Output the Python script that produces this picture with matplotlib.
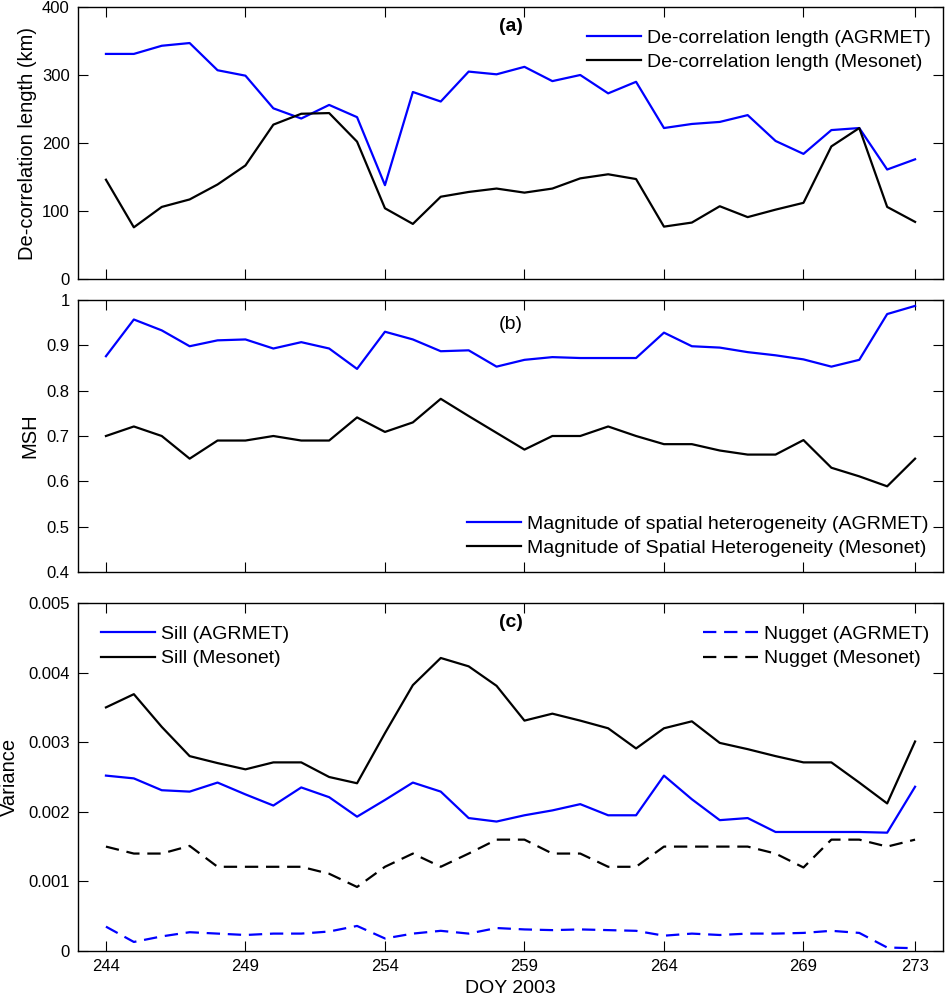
import matplotlib
matplotlib.use("Agg")
import matplotlib.pyplot as plt
import numpy as np

plt.rcParams['font.family'] = ['Liberation Sans', 'DejaVu Sans']
plt.rcParams['font.size'] = 12

doy = np.arange(244, 274)

# (a) de-correlation length, km
decor_agrmet = [331, 331, 343, 347, 307, 299, 251, 236, 256, 238,
                138, 275, 261, 305, 301, 312, 291, 300, 273, 290,
                222, 228, 231, 241, 203, 184, 219, 222, 161, 176]
decor_mesonet = [146, 76, 106, 117, 139, 167, 227, 243, 244, 202,
                 104, 81, 121, 128, 133, 127, 133, 148, 154, 147,
                 77, 83, 107, 91, 102, 112, 195, 222, 106, 84]

# (b) magnitude of spatial heterogeneity
msh_agrmet = [0.876, 0.957, 0.933, 0.898, 0.911, 0.913, 0.893, 0.907, 0.893, 0.848,
              0.930, 0.913, 0.887, 0.889, 0.853, 0.868, 0.874, 0.872, 0.872, 0.872,
              0.928, 0.898, 0.895, 0.885, 0.878, 0.869, 0.853, 0.868, 0.969, 0.987]
msh_mesonet = [0.700, 0.721, 0.700, 0.650, 0.690, 0.690, 0.700, 0.690, 0.690, 0.741,
               0.709, 0.730, 0.782, 0.744, 0.707, 0.670, 0.700, 0.700, 0.721, 0.700,
               0.682, 0.682, 0.668, 0.659, 0.659, 0.691, 0.630, 0.611, 0.589, 0.650]

# (c) variance (x 1e-3)
sill_agrmet = [2.52, 2.48, 2.31, 2.29, 2.42, 2.25, 2.09, 2.35, 2.21, 1.93,
               2.17, 2.42, 2.29, 1.91, 1.86, 1.95, 2.02, 2.11, 1.95, 1.95,
               2.52, 2.18, 1.88, 1.91, 1.71, 1.71, 1.71, 1.71, 1.70, 2.36]
sill_mesonet = [3.50, 3.69, 3.22, 2.80, 2.70, 2.61, 2.71, 2.71, 2.50, 2.41,
                3.13, 3.82, 4.21, 4.09, 3.81, 3.31, 3.41, 3.31, 3.20, 2.91,
                3.20, 3.30, 2.99, 2.90, 2.80, 2.71, 2.71, 2.42, 2.12, 3.01]
nugget_agrmet = [0.35, 0.13, 0.21, 0.27, 0.25, 0.23, 0.25, 0.25, 0.28, 0.36,
                 0.18, 0.25, 0.29, 0.25, 0.33, 0.31, 0.30, 0.31, 0.30, 0.29,
                 0.22, 0.25, 0.23, 0.25, 0.25, 0.26, 0.29, 0.26, 0.05, 0.04]
nugget_mesonet = [1.50, 1.40, 1.40, 1.51, 1.21, 1.21, 1.21, 1.21, 1.11, 0.92,
                  1.21, 1.40, 1.21, 1.40, 1.60, 1.60, 1.40, 1.40, 1.21, 1.21,
                  1.50, 1.50, 1.50, 1.50, 1.40, 1.20, 1.60, 1.60, 1.50, 1.60]

xticks = [244, 249, 254, 259, 264, 269, 273]
blue = (0, 0, 1)
dash = (0, (6, 3.5))

fig = plt.figure(figsize=(9.46, 10), dpi=100)
ax1 = fig.add_axes([0.0825, 0.721, 0.9143, 0.272])
ax2 = fig.add_axes([0.0825, 0.428, 0.9143, 0.272])
ax3 = fig.add_axes([0.0825, 0.049, 0.9143, 0.348])

for ax in (ax1, ax2, ax3):
    ax.set_xlim(243, 274)
    ax.set_xticks(xticks)
    ax.tick_params(direction='in', top=True, right=True, length=7, labelsize=12, pad=6)
    for s in ax.spines.values():
        s.set_linewidth(1)

lw = 1.6
legkw = dict(frameon=False, fontsize=14, handlelength=2.8, handletextpad=0.3,
             labelspacing=0.35)

# panel a
ax1.plot(doy, decor_agrmet, color=blue, lw=lw, label='De-correlation length (AGRMET)')
ax1.plot(doy, decor_mesonet, color='k', lw=lw, label='De-correlation length (Mesonet)')
ax1.set_ylim(0, 400)
ax1.set_yticks([0, 100, 200, 300, 400])
ax1.set_xticklabels([])
ax1.set_ylabel('De-correlation length (km)', fontsize=14.5)
ax1.yaxis.set_label_coords(-0.0474, 0.5)
ax1.text(0.5, 0.93, '(a)', transform=ax1.transAxes, ha='center', va='center',
         fontsize=14, fontweight='bold')
ax1.legend(loc='upper right', bbox_to_anchor=(1.006, 0.983), **legkw)

# panel b
ax2.plot(doy, msh_agrmet, color=blue, lw=lw, label='Magnitude of spatial heterogeneity (AGRMET)')
ax2.plot(doy, msh_mesonet, color='k', lw=lw, label='Magnitude of Spatial Heterogeneity (Mesonet)')
ax2.set_ylim(0.4, 1.0)
ax2.set_yticks([0.4, 0.5, 0.6, 0.7, 0.8, 0.9, 1.0])
ax2.set_yticklabels(['0.4', '0.5', '0.6', '0.7', '0.8', '0.9', '1'])
ax2.set_xticklabels([])
ax2.set_ylabel('MSH', fontsize=14.5)
ax2.yaxis.set_label_coords(-0.045, 0.5)
ax2.text(0.5, 0.91, '(b)', transform=ax2.transAxes, ha='center', va='center', fontsize=14)
ax2.legend(loc='lower right', bbox_to_anchor=(1.0035, -0.009), **legkw)

# panel c
sill_a, = ax3.plot(doy, np.array(sill_agrmet) * 1e-3, color=blue, lw=lw, label='Sill (AGRMET)')
sill_m, = ax3.plot(doy, np.array(sill_mesonet) * 1e-3, color='k', lw=lw, label='Sill (Mesonet)')
nug_a, = ax3.plot(doy, np.array(nugget_agrmet) * 1e-3, color=blue, lw=lw, ls=dash,
                  label='Nugget (AGRMET)')
nug_m, = ax3.plot(doy, np.array(nugget_mesonet) * 1e-3, color='k', lw=lw, ls=dash,
                  label='Nugget (Mesonet)')
ax3.set_ylim(0, 0.005)
ax3.set_yticks([0, 0.001, 0.002, 0.003, 0.004, 0.005])
ax3.set_yticklabels(['0', '0.001', '0.002', '0.003', '0.004', '0.005'])
ax3.set_xlabel('DOY 2003', fontsize=14, labelpad=4)
ax3.set_ylabel('Variance', fontsize=14.5)
ax3.yaxis.set_label_coords(-0.068, 0.5)
ax3.text(0.5, 0.943, '(c)', transform=ax3.transAxes, ha='center', va='center',
         fontsize=14, fontweight='bold')
leg1 = ax3.legend(handles=[sill_a, sill_m], loc='upper left', bbox_to_anchor=(0.006, 0.986),
                  **legkw)
ax3.add_artist(leg1)
ax3.legend(handles=[nug_a, nug_m], loc='upper right', bbox_to_anchor=(1.004, 0.986), **legkw)

fig.savefig('out.png', dpi=100)
